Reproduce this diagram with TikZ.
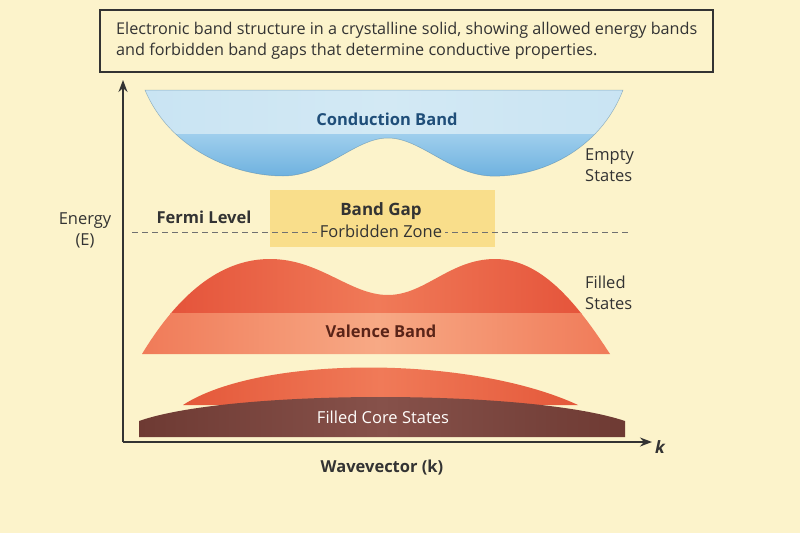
\documentclass[tikz,border=0pt]{standalone}
\usepackage{fontspec}
\setmainfont{Open Sans}
\usetikzlibrary{arrows.meta}
\definecolor{bg}{HTML}{FCF3CB}
\definecolor{ink}{HTML}{333333}
\definecolor{cbdark}{HTML}{6AAFDE}
\definecolor{cbmid}{HTML}{A0CFED}
\definecolor{cblight}{HTML}{D3E9F4}
\definecolor{cbtext}{HTML}{1F4E79}
\definecolor{gapfill}{HTML}{F8DA80}
\definecolor{vbred}{HTML}{E34E36}
\definecolor{vbmid}{HTML}{F07A58}
\definecolor{vblight}{HTML}{F7A985}
\definecolor{vbtext}{HTML}{5A2418}
\definecolor{corered}{HTML}{E4583A}
\definecolor{corebrown}{HTML}{6E3A33}
\definecolor{corebrownl}{HTML}{86514A}
\tikzset{
  lbl/.style={text=ink, font=\fontsize{16.5}{20}\selectfont, inner sep=0pt},
  blbl/.style={lbl, font=\fontsize{16.5}{20}\selectfont\bfseries},
  axis/.style={draw=ink, line width=1.6pt, -{Stealth[length=12pt,width=9pt]}}
}
\begin{document}
\begin{tikzpicture}[x=1pt,y=-1pt]
\fill[bg] (0,0) rectangle (800,533);
\useasboundingbox (0,0) rectangle (800,533);
% title
\node[draw=ink, line width=1.2pt, fill=bg, minimum width=613pt, minimum height=62pt, inner sep=0pt] (title) at (406.5,41) {};
\node[lbl, anchor=west, align=left, font=\fontsize{16.2}{21}\selectfont] (titletext) at (116,41)
 {Electronic band structure in a crystalline solid, showing allowed energy bands\\and forbidden band gaps that determine conductive properties.};
% conduction band
\begin{scope}
\clip (145,90) -- (623,90) .. controls (600,150) and (540,178) .. (490,176)
  .. controls (450,174) and (420,138) .. (388,138)
  .. controls (355,138) and (325,176) .. (283,176)
  .. controls (235,176) and (170,150) .. (145,90) -- cycle;
\shade[top color=cbmid, bottom color=cbdark] (140,133) rectangle (630,180);
\shade[left color=cblight!80!cbmid, right color=cblight!80!cbmid, middle color=cblight] (140,88) rectangle (630,133);
\end{scope}
\draw[cbdark!70!black, line width=0.5pt, opacity=0.5] (145,90) -- (623,90) .. controls (600,150) and (540,178) .. (490,176)
  .. controls (450,174) and (420,138) .. (388,138)
  .. controls (355,138) and (325,176) .. (283,176)
  .. controls (235,176) and (170,150) .. (145,90) -- cycle;
\node[blbl, text=cbtext] (cb) at (387,119) {Conduction Band};
\node[lbl, anchor=west, align=left, font=\fontsize{16.5}{21}\selectfont] (empty) at (585,165) {Empty\\States};
% band gap
\node[fill=gapfill!85!bg, minimum width=225pt, minimum height=57pt, inner sep=0pt] (gap) at (382.5,218.5) {};
\draw[ink!70, dashed, dash pattern=on 6pt off 4pt, line width=0.9pt] (132,232) -- (630,232);
\node[blbl, font=\fontsize{17}{20}\selectfont\bfseries] (gaptitle) at (381,211) {Band Gap};
\node[lbl, fill=gapfill!85!bg, inner xsep=3pt, inner ysep=1pt] (forbidden) at (381,231) {Forbidden Zone};
\node[blbl] (fermi) at (204,217) {Fermi Level};
% valence band
\begin{scope}
\clip (142,354) .. controls (182,288) and (225,259) .. (270,259)
  .. controls (320,259) and (350,295) .. (388,295)
  .. controls (425,295) and (450,259) .. (495,259)
  .. controls (540,259) and (575,300) .. (610,354) -- cycle;
\shade[left color=vbred, right color=vbred, middle color=vbmid] (140,255) rectangle (615,313);
\shade[left color=vbmid, right color=vbmid, middle color=vblight] (140,313) rectangle (615,356);
\end{scope}
\node[blbl, text=vbtext] (vb) at (381,331) {Valence Band};
\node[lbl, anchor=west, align=left, font=\fontsize{16.5}{21}\selectfont] (filled) at (585,293) {Filled\\States};
% core states
\shade[left color=corered, right color=corered, middle color=vbmid] (183,405) .. controls (260,355) and (470,355) .. (578,405) -- cycle;
\shade[left color=corebrown, right color=corebrown, middle color=corebrownl] (139,437) -- (139,421) .. controls (230,389) and (530,389) .. (625,421) -- (625,437) -- cycle;
\node[lbl, text=white!95!bg] (core) at (383,417) {Filled Core States};
% axes
\coordinate (origin) at (123,442);
\coordinate (ytop) at (123,80);
\coordinate (xend) at (652,442);
\draw[axis] (origin) -- (ytop);
\draw[axis] (origin) -- (xend);
\node[lbl, font=\fontsize{17}{18}\selectfont\bfseries\itshape, anchor=west] (klab) at (655,447) {k};
\node[blbl] (wave) at (382,468) {Wavevector (k)};
\node[lbl, align=center, font=\fontsize{16.5}{21}\selectfont] (energy) at (85,230) {Energy\\(E)};
\end{tikzpicture}
\end{document}
